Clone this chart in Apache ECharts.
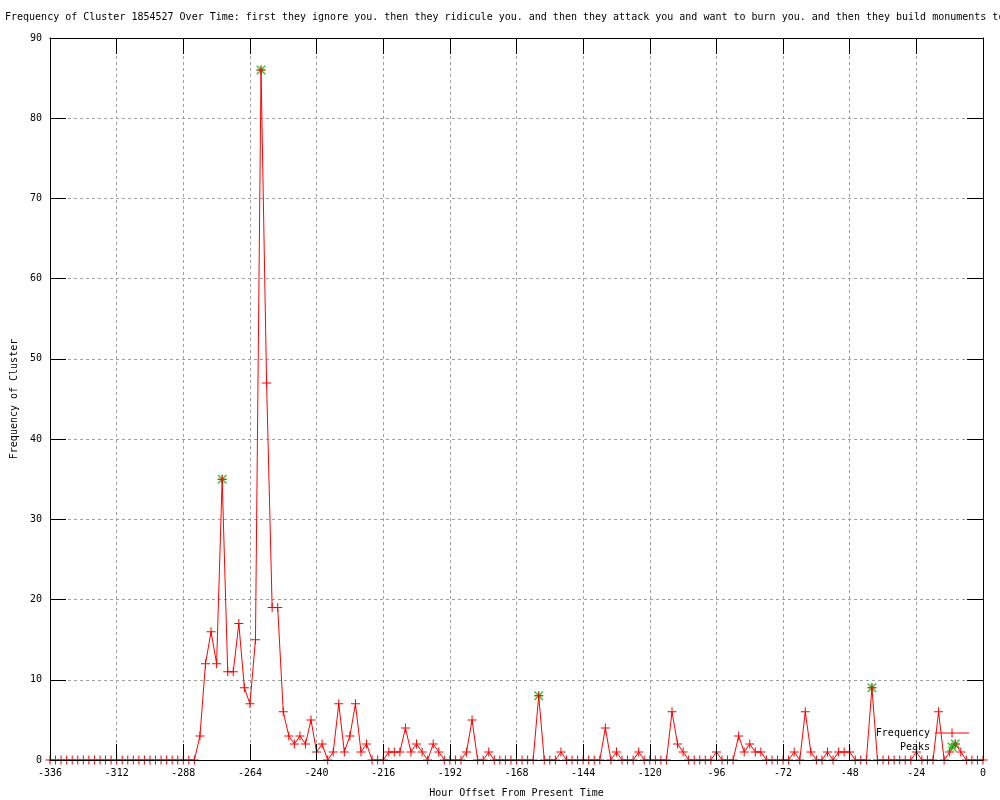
<!DOCTYPE html>
<html>
<head>
<meta charset="utf-8">
<script src="https://cdn.jsdelivr.net/npm/echarts@6/dist/echarts.min.js"></script>
<style>
html,body{margin:0;padding:0;background:#fff;}
#chart{width:1000px;height:800px;}
</style>
</head>
<body>
<div id="chart"></div>
<script>
// x categories: hour offsets, every 2 hours from -336 to 0
const hourStart = -336;
const hourStep = 2;
// frequency values, one per 2-hour bin (169 values, -336 .. 0)
const frequencyValues = [
  0,0,0,0,0,0,0,0,0,0,0,0,0,0,0,0,0,0,0,0,0,0,0,0,
  0,0,0,
  3,12,16,12,35,11,11,17,9,7,15,86,
  47,19,19,6,3,2,3,2,5,1,2,0,
  1,7,1,3,7,1,2,0,0,0,1,1,
  1,4,1,2,1,0,2,1,0,0,0,0,
  1,5,0,0,1,0,0,0,0,0,0,0,
  0,8,0,0,0,1,0,0,0,0,0,0,
  0,4,0,1,0,0,0,1,0,0,0,0,
  0,6,2,1,0,0,0,0,0,1,0,0,
  0,3,1,2,1,1,0,0,0,0,0,1,
  0,6,1,0,0,1,0,1,1,1,0,0,
  0,9,0,0,0,0,0,0,0,1,0,0,
  0,6,0,1,2,1,0,0,0,0
];
const peakHours = [-274, -260, -160, -40, -10];
const peakValues = [35, 86, 8, 9, 2];
const xTicks = { min: -336, max: 0, interval: 24 };
const yTicks = { min: 0, max: 90, interval: 10 };
const titleText = 'Frequency of Cluster 1854527 Over Time: first they ignore you. then they ridicule you. and then they attack you and want to burn you. and then they build monuments to';

const hours = frequencyValues.map((_, i) => hourStart + i * hourStep);
const freqData = frequencyValues.map((v, i) => [hours[i], v]);
const peakData = peakValues.map((v, i) => [peakHours[i], v]);

const FONT = 'DejaVu Sans Mono';
const plusPath = 'path://M0,4L9,4L9,5L0,5Z M4,0L5,0L5,9L4,9Z';
const starPath = 'path://M0,4L9,4L9,5L0,5Z M4,0L5,0L5,9L4,9Z M0,0L1,0L9,8L9,9L8,9L0,1Z M8,0L9,0L9,1L1,9L0,9L0,8Z';
const freqLegendPath = 'path://M0,4L34,4L34,5L0,5Z M16.5,0L17.5,0L17.5,9L16.5,9Z';

const chart = echarts.init(document.getElementById('chart'), null, {renderer: 'canvas'});
const gridStyle = {show: true, lineStyle: {color: '#a0a0a0', type: [3, 3], width: 1}};
chart.setOption({
  animation: false,
  backgroundColor: '#ffffff',
  title: {
    text: titleText, left: 5, top: 12, padding: 0,
    textStyle: {fontFamily: FONT, fontSize: 10, fontWeight: 'normal', color: '#000'}
  },
  grid: {left: 50, right: 17, top: 38, bottom: 40, containLabel: false, outerBoundsMode: 'none'},
  legend: {
    orient: 'vertical', align: 'right', right: 31, top: 728,
    itemWidth: 34, itemHeight: 9, itemGap: 4, padding: 0,
    textStyle: {fontFamily: FONT, fontSize: 10, color: '#000'},
    data: [
      {name: 'Frequency', icon: freqLegendPath, itemStyle: {color: '#ff0000'}},
      {name: 'Peaks', icon: starPath}
    ]
  },
  xAxis: [{
    type: 'value', position: 'bottom', min: xTicks.min, max: xTicks.max, interval: xTicks.interval, z: 5,
    name: 'Hour Offset From Present Time', nameLocation: 'middle', nameGap: 28,
    nameTextStyle: {fontFamily: FONT, fontSize: 10, color: '#000'},
    axisLine: {show: true, lineStyle: {color: '#000', width: 1}},
    axisTick: {show: true, inside: true, length: 16, lineStyle: {color: '#000'}},
    axisLabel: {fontFamily: FONT, fontSize: 10, color: '#000', margin: 8},
    splitLine: {show: false}
  }, {
    type: 'value', position: 'top', min: xTicks.min, max: xTicks.max, interval: xTicks.interval, z: 0,
    axisLine: {show: true, onZero: false, lineStyle: {color: '#000', width: 1}},
    axisTick: {show: true, inside: true, length: 16, lineStyle: {color: '#000'}},
    axisLabel: {show: false},
    splitLine: gridStyle
  }],
  yAxis: [{
    type: 'value', position: 'left', min: yTicks.min, max: yTicks.max, interval: yTicks.interval, z: 5,
    name: 'Frequency of Cluster', nameLocation: 'middle', nameGap: 31, nameRotate: 90,
    nameTextStyle: {fontFamily: FONT, fontSize: 10, color: '#000'},
    axisLine: {show: true, onZero: false, lineStyle: {color: '#000', width: 1}},
    axisTick: {show: true, inside: true, length: 16, lineStyle: {color: '#000'}},
    axisLabel: {fontFamily: FONT, fontSize: 10, color: '#000', margin: 8},
    splitLine: {show: false}
  }, {
    type: 'value', position: 'right', min: yTicks.min, max: yTicks.max, interval: yTicks.interval, z: 0,
    axisLine: {show: true, onZero: false, lineStyle: {color: '#000', width: 1}},
    axisTick: {show: true, inside: true, length: 16, lineStyle: {color: '#000'}},
    axisLabel: {show: false},
    splitLine: gridStyle
  }],
  series: [{
    name: 'Peaks', type: 'scatter', data: peakData, z: 2,
    symbol: starPath, symbolSize: 9,
    itemStyle: {color: '#00b000'}
  }, {
    name: 'Frequency', type: 'line', data: freqData, z: 3,
    symbol: plusPath, symbolSize: 9, showAllSymbol: true,
    lineStyle: {color: '#ff0000', width: 1},
    itemStyle: {color: '#ff0000'}
  }]
});
</script>
</body>
</html>
